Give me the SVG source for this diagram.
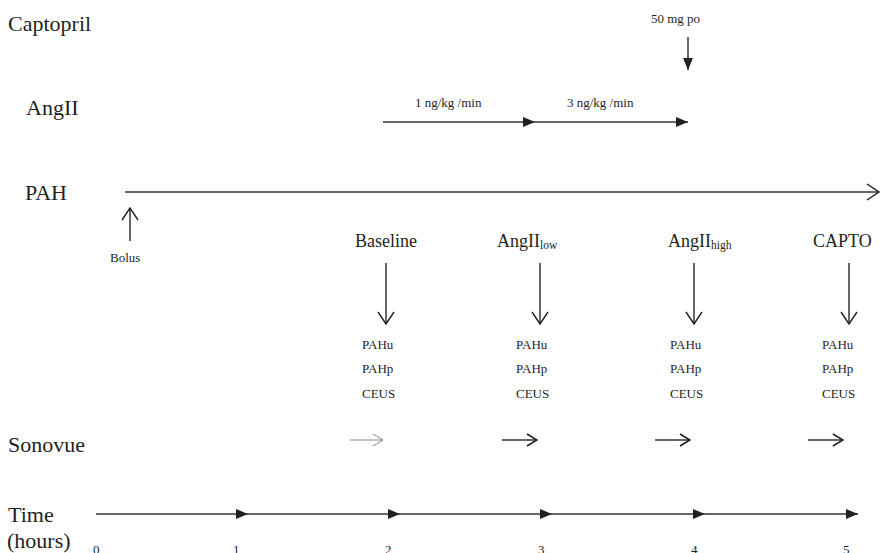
<svg xmlns="http://www.w3.org/2000/svg" width="882" height="553" viewBox="0 0 882 553">
<style>
text{font-family:"Liberation Serif","Times New Roman",serif;fill:#231f20}
.big{font-size:22px}
.mid{font-size:18px}
.sm{font-size:13px}
.sub{font-size:11.5px}
.ln{stroke:#333;stroke-width:1.5;fill:none}
.gray{stroke:#888;stroke-width:1;fill:none}
</style>
<defs>
<marker id="fill" markerUnits="userSpaceOnUse" markerWidth="12" markerHeight="12" refX="12" refY="6" orient="auto" viewBox="0 0 12 12">
<path d="M0,1 L12,6 L0,11 z" fill="#231f20"/>
</marker>
<marker id="open" markerUnits="userSpaceOnUse" markerWidth="14" markerHeight="18" refX="13" refY="9" orient="auto" viewBox="0 0 14 18">
<path d="M1,1 L13,9 L1,17" fill="none" stroke="#231f20" stroke-width="1.4"/>
</marker>
<marker id="openS" markerUnits="userSpaceOnUse" markerWidth="12" markerHeight="14" refX="11" refY="7" orient="auto" viewBox="0 0 12 14">
<path d="M1,1 L11,7 L1,13" fill="none" stroke="#231f20" stroke-width="1.5"/>
</marker>
<marker id="openG" markerUnits="userSpaceOnUse" markerWidth="12" markerHeight="14" refX="11" refY="7" orient="auto" viewBox="0 0 12 14">
<path d="M1,1 L11,7 L1,13" fill="none" stroke="#888" stroke-width="1"/>
</marker>
</defs>

<g id="row-labels">
<text class="big" x="8" y="31">Captopril</text>
<text class="big" x="26" y="115">AngII</text>
<text class="big" x="25" y="200">PAH</text>
<text class="big" x="8" y="452">Sonovue</text>
<text class="big" x="8" y="522">Time</text>
<text class="big" x="7" y="548">(hours)</text>
</g>

<g id="captopril">
<text class="sm" x="651" y="23">50 mg po</text>
</g>
<g id="angii">
<text class="sm" x="415" y="107">1 ng/kg /min</text>
<text class="sm" x="567" y="107">3 ng/kg /min</text>
</g>
<g id="bolus">
<text class="sm" x="110" y="262">Bolus</text>
</g>

<g id="baseline">
<text class="mid" x="355" y="247">Baseline</text>
<text class="sm" x="362" y="349">PAHu</text>
<text class="sm" x="362" y="373">PAHp</text>
<text class="sm" x="362" y="398">CEUS</text>
</g>
<g id="angii-low">
<text class="mid" x="497" y="247">AngII<tspan class="sub" dy="2">low</tspan></text>
<text class="sm" x="516" y="349">PAHu</text>
<text class="sm" x="516" y="373">PAHp</text>
<text class="sm" x="516" y="398">CEUS</text>
</g>
<g id="angii-high">
<text class="mid" x="668" y="247">AngII<tspan class="sub" dy="2">high</tspan></text>
<text class="sm" x="670" y="349">PAHu</text>
<text class="sm" x="670" y="373">PAHp</text>
<text class="sm" x="670" y="398">CEUS</text>
</g>
<g id="capto">
<text class="mid" x="813" y="247">CAPTO</text>
<text class="sm" x="822" y="349">PAHu</text>
<text class="sm" x="822" y="373">PAHp</text>
<text class="sm" x="822" y="398">CEUS</text>
</g>

<g id="time-ticks">
<text class="sm" x="93" y="554">0</text>
<text class="sm" x="233" y="554">1</text>
<text class="sm" x="385" y="554">2</text>
<text class="sm" x="538" y="554">3</text>
<text class="sm" x="691" y="554">4</text>
<text class="sm" x="843" y="554">5</text>
</g>

<g id="connectors">
<line class="ln" x1="688" y1="37" x2="688" y2="70" marker-end="url(#fill)"/>
<line class="ln" x1="383" y1="122" x2="535" y2="122" marker-end="url(#fill)"/>
<line class="ln" x1="535" y1="122" x2="688" y2="122" marker-end="url(#fill)"/>
<line class="ln" x1="125" y1="192" x2="879" y2="192" marker-end="url(#open)"/>
<line class="ln" x1="130" y1="241" x2="130" y2="208" marker-end="url(#open)"/>
<line class="ln" x1="386" y1="263" x2="386" y2="324" marker-end="url(#open)"/>
<line class="ln" x1="540" y1="263" x2="540" y2="324" marker-end="url(#open)"/>
<line class="ln" x1="694" y1="263" x2="694" y2="324" marker-end="url(#open)"/>
<line class="ln" x1="849" y1="263" x2="849" y2="324" marker-end="url(#open)"/>
<line class="gray" x1="350" y1="440" x2="383" y2="440" marker-end="url(#openG)"/>
<line class="ln" x1="502" y1="440" x2="537" y2="440" marker-end="url(#openS)"/>
<line class="ln" x1="655" y1="440" x2="690" y2="440" marker-end="url(#openS)"/>
<line class="ln" x1="808" y1="440" x2="843" y2="440" marker-end="url(#openS)"/>
<line class="ln" x1="96" y1="514" x2="248" y2="514" marker-end="url(#fill)"/>
<line class="ln" x1="248" y1="514" x2="400" y2="514" marker-end="url(#fill)"/>
<line class="ln" x1="400" y1="514" x2="552" y2="514" marker-end="url(#fill)"/>
<line class="ln" x1="552" y1="514" x2="705" y2="514" marker-end="url(#fill)"/>
<line class="ln" x1="705" y1="514" x2="858" y2="514" marker-end="url(#fill)"/>
</g>
</svg>
